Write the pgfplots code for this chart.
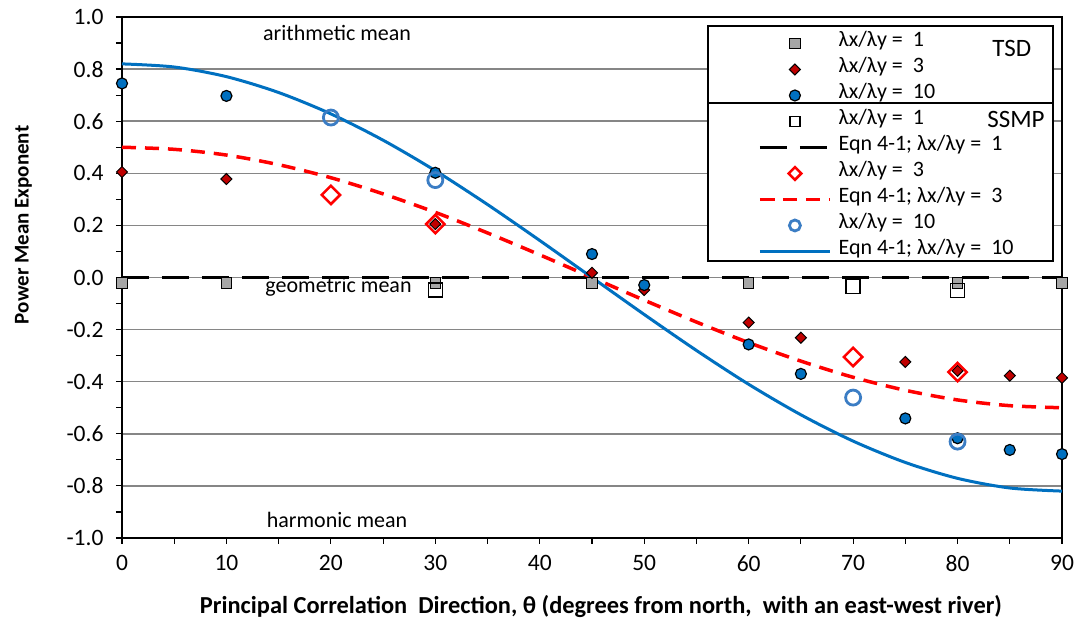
\documentclass[border=0pt]{standalone}
\usepackage{fontspec}
\setmainfont{Carlito}
\usepackage{pgfplots}
\pgfplotsset{compat=1.18}
\definecolor{xblue}{HTML}{0070C0}
\definecolor{xdred}{HTML}{C00000}
\definecolor{xgray}{HTML}{A6A6A6}
\definecolor{xlblue}{HTML}{3B7DC4}
\definecolor{xgrid}{HTML}{868686}
\newcommand{\fs}{\fontsize{22}{25}\selectfont}
\begin{document}
\begin{tikzpicture}
\begin{axis}[
  width=940pt, height=521pt, scale only axis,
  xmin=0, xmax=90, ymin=-1, ymax=1,
  xtick={0,10,20,30,40,50,60,70,80,90}, minor x tick num=1,
  ytick={-1,-0.8,-0.6,-0.4,-0.2,0,0.2,0.4,0.6,0.8,1}, minor y tick num=1,
  xtick pos=lower, ytick pos=left,
  yticklabel style={/pgf/number format/fixed, /pgf/number format/fixed zerofill, /pgf/number format/precision=1, xshift=-9pt},
  xticklabel style={yshift=-8pt},
  /pgf/number format/assume math mode=true,
  tick align=outside, major tick length=6pt, minor tick length=6pt,
  every tick/.style={black, line width=1.2pt},
  axis line style={black, line width=1.6pt},
  ymajorgrids, major grid style={xgrid, line width=1.5pt},
  tick label style={font=\fontsize{23.5}{26}\selectfont},
  every axis x label/.style={at={(axis description cs:0.5096,-0.1324)}, anchor=center, font=\bfseries\fontsize{24.4}{27}\selectfont},
  every axis y label/.style={at={(axis description cs:-0.1048,0.601)}, rotate=90, anchor=center, font=\bfseries\fontsize{21}{24}\selectfont},
  xlabel={Principal Correlation\ \ Direction, θ (degrees from north,\ \ with an east-west river)},
  ylabel={Power Mean Exponent},
  legend image code/.code={\draw[mark repeat=2,mark phase=2,#1] plot coordinates {(0pt,0pt) (35pt,0pt) (70pt,0pt)};},
  legend style={draw=none, fill=none, at={(axis cs:60.89,0.949)}, anchor=north west,
    inner sep=0pt, row sep=0pt, font=\fs,
    nodes={inner sep=0pt, text height=16.5pt, text depth=9.5pt},
    /tikz/every odd column/.append style={column sep=7pt}},
  legend cell align=left,
]
% TSD
\addplot[only marks, mark=square*, mark size=5.3pt, mark options={fill=xgray, draw=black, line width=1pt}]
  coordinates {(0,-0.02)(10,-0.02)(30,-0.02)(45,-0.02)(60,-0.02)(80,-0.02)(90,-0.02)};
\addlegendentry{λx/λy =\ \ 1}
\addplot[only marks, mark=square*, mark size=3.9pt, mark options={rotate=45, fill=xdred, draw=black, line width=1pt}]
  coordinates {(0,0.405)(10,0.378)(30,0.205)(45,0.018)(50,-0.048)(60,-0.173)(65,-0.231)(75,-0.324)(80,-0.358)(85,-0.377)(90,-0.385)};
\addlegendentry{λx/λy =\ \ 3}
\addplot[only marks, mark=*, mark size=5.5pt, mark options={fill=xblue, draw=black, line width=1.2pt}]
  coordinates {(0,0.745)(10,0.697)(30,0.402)(45,0.09)(50,-0.029)(60,-0.257)(65,-0.37)(75,-0.541)(80,-0.617)(85,-0.662)(90,-0.678)};
\addlegendentry{λx/λy =\ \ 10}
% SSMP
\addplot[only marks, mark=square, mark size=7pt, mark options={draw=black, line width=1.5pt}, legend image post style={mark size=5pt}]
  coordinates {(30,-0.048)(70,-0.035)(80,-0.05)};
\addlegendentry{λx/λy =\ \ 1}
\addplot[black, line width=3.5pt, dash pattern=on 27pt off 13pt]
  coordinates {(0,0)(90,0)};
\addlegendentry{Eqn 4-1; λx/λy =\ \ 1}
\addplot[only marks, mark=square, mark size=6.5pt, mark options={rotate=45, draw=red, line width=2.5pt}, legend image post style={mark size=4.5pt, line width=1.8pt}]
  coordinates {(20,0.317)(30,0.205)(70,-0.305)(80,-0.363)};
\addlegendentry{λx/λy =\ \ 3}
\addplot[red, line width=3.5pt, dash pattern=on 14pt off 9pt, smooth]
  coordinates {(0,0.5)(5,0.492)(10,0.470)(15,0.433)(20,0.383)(25,0.321)(30,0.25)(35,0.171)(40,0.087)(45,0)(50,-0.087)(55,-0.171)(60,-0.25)(65,-0.321)(70,-0.383)(75,-0.433)(80,-0.470)(85,-0.492)(90,-0.5)};
\addlegendentry{Eqn 4-1; λx/λy =\ \ 3}
\addplot[only marks, mark=o, mark size=7.5pt, mark options={draw=xlblue, line width=2.8pt}, legend image post style={mark size=5.5pt, line width=1.8pt}]
  coordinates {(20,0.614)(30,0.374)(70,-0.461)(80,-0.630)};
\addlegendentry{λx/λy =\ \ 10}
\addplot[xblue, line width=3pt, smooth]
  coordinates {(0,0.82)(5,0.808)(10,0.771)(15,0.710)(20,0.628)(25,0.527)(30,0.410)(35,0.280)(40,0.142)(45,0)(50,-0.142)(55,-0.280)(60,-0.410)(65,-0.527)(70,-0.628)(75,-0.710)(80,-0.771)(85,-0.808)(90,-0.82)};
\addlegendentry{Eqn 4-1; λx/λy =\ \ 10}
% legend frame and annotations
\draw[black, line width=1.5pt, fill=white] (axis cs:56.11,0.9655) rectangle (axis cs:89.14,0.0633);
\draw[black, line width=1.5pt] (axis cs:56.11,0.670) -- (axis cs:89.14,0.670);
\node[font=\fontsize{25}{28}\selectfont, anchor=center] at (axis cs:85.2,0.881) {TSD};
\node[font=\fontsize{25}{28}\selectfont, anchor=center] at (axis cs:85.6,0.605) {SSMP};
\node[font=\fs, anchor=center] at (axis cs:20.59,0.9386) {arithmetic mean};
\node[font=\fs, anchor=center] at (axis cs:20.73,-0.036) {geometric mean};
\node[font=\fs, anchor=center] at (axis cs:20.59,-0.931) {harmonic mean};
\end{axis}
\pgfresetboundingbox
\path (current axis.south west) ++(-122pt,-85pt) rectangle ++(1076pt,623pt);
\end{tikzpicture}
\end{document}
